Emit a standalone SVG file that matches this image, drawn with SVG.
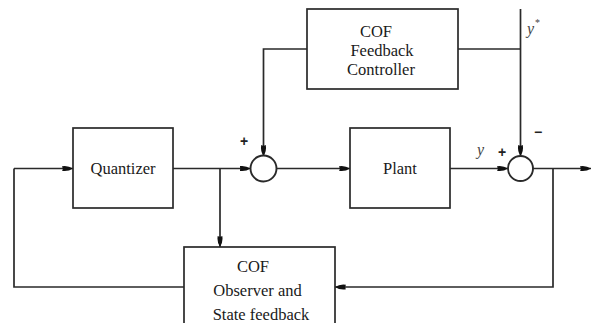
<svg xmlns="http://www.w3.org/2000/svg" width="594" height="323" viewBox="0 0 594 323">
<defs>
<style>
.box{fill:#fff;stroke:#2a2a2a;stroke-width:1.7}
.sum{fill:#fff;stroke:#2a2a2a;stroke-width:1.9}
.ln{fill:none;stroke:#2a2a2a;stroke-width:1.7}
.t{font-family:"Liberation Serif","Times New Roman",serif;font-size:16.5px;fill:#1a1a1a;text-anchor:middle}
.s{font-family:"Liberation Sans",Arial,sans-serif;font-size:14px;font-weight:bold;fill:#222;text-anchor:middle}
.i{font-family:"Liberation Serif","Times New Roman",serif;font-style:italic;font-size:16px;fill:#444}
</style>
<marker id="ah" viewBox="0 0 11 7" refX="11" refY="3.5" markerWidth="11" markerHeight="7" markerUnits="userSpaceOnUse" orient="auto">
<path d="M0,1.2 Q6,0.2 11,3.5 Q6,6.8 0,5.8 Q1.5,3.5 0,1.2z" fill="#111"/>
</marker>
</defs>
<rect width="594" height="323" fill="#fff"/>
<g id="connectors">
<polyline class="ln" points="14,168.5 73,168.5" marker-end="url(#ah)"/>
<polyline class="ln" points="173,168.5 250.5,168.5" marker-end="url(#ah)"/>
<polyline class="ln" points="220,168.5 220,247" marker-end="url(#ah)"/>
<polyline class="ln" points="276.5,168.5 350,168.5" marker-end="url(#ah)"/>
<polyline class="ln" points="450,168.5 508,168.5" marker-end="url(#ah)"/>
<polyline class="ln" points="533,168.5 591,168.5" marker-end="url(#ah)"/>
<polyline class="ln" points="307,49 263.5,49 263.5,156" marker-end="url(#ah)"/>
<polyline class="ln" points="458,49 520.5,49"/>
<polyline class="ln" points="520.5,9 520.5,156" marker-end="url(#ah)"/>
<polyline class="ln" points="553,168.5 553,287 335,287" marker-end="url(#ah)"/>
<polyline class="ln" points="184,287 14,287 14,168.5"/>
<text class="s" x="244" y="146">+</text>
<text class="s" x="502" y="157">+</text>
<text class="s" x="538" y="137">−</text>
<text class="i" x="477" y="155">y</text>
<text class="i" x="527" y="34">y<tspan font-size="10" dx="1" dy="-8" font-style="normal">*</tspan></text>
</g>
<g id="quantizer">
<rect class="box" x="73" y="128" width="100" height="80"/>
<text class="t" x="123" y="174">Quantizer</text>
</g>
<g id="plant">
<rect class="box" x="350" y="128" width="100" height="80"/>
<text class="t" x="400" y="174">Plant</text>
</g>
<g id="controller">
<rect class="box" x="307" y="9" width="151" height="80"/>
<text class="t" x="376" y="37">COF</text>
<text class="t" x="382" y="56">Feedback</text>
<text class="t" x="381" y="75">Controller</text>
</g>
<g id="observer">
<rect class="box" x="184" y="247" width="151" height="90"/>
<text class="t" x="253" y="272">COF</text>
<text class="t" x="257.5" y="296">Observer and</text>
<text class="t" x="261" y="320">State feedback</text>
</g>
<g id="sum1">
<circle class="sum" cx="263.5" cy="168.5" r="13"/>
</g>
<g id="sum2">
<circle class="sum" cx="520.5" cy="168.5" r="12.5"/>
</g>
</svg>
